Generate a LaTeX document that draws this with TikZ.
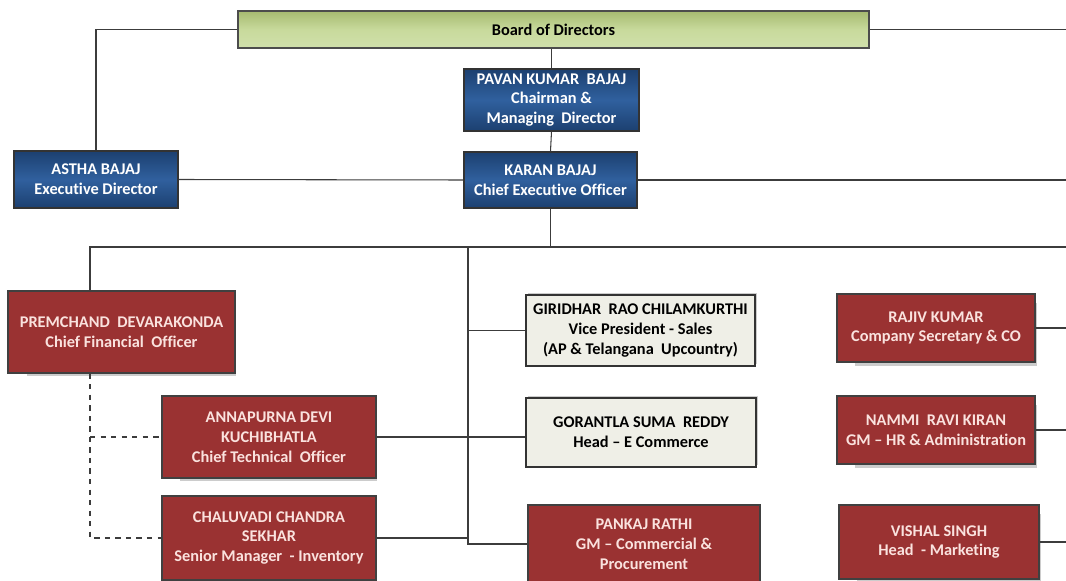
\documentclass[tikz,border=0pt]{standalone}
\usepackage{fontspec}
\setmainfont{Carlito}[Ligatures=NoCommon]
\usetikzlibrary{shadows}

\definecolor{boardgreen}{RGB}{200,218,156}
\definecolor{boardtop}{RGB}{166,186,112}
\definecolor{execblue}{RGB}{48,96,158}
\definecolor{execdark}{RGB}{28,64,112}
\definecolor{headred}{RGB}{154,50,50}
\definecolor{headtext}{RGB}{250,226,222}
\definecolor{salesgray}{RGB}{239,239,231}
\definecolor{wire}{RGB}{60,60,60}

\tikzset{
  box/.style={draw, line width=0.7pt, align=center, inner sep=1pt,
    font=\fontsize{9.3}{11.3}\selectfont\bfseries},
  boardbox/.style={box, draw=black!70, top color=boardtop, bottom color=boardgreen!85,
    middle color=boardgreen},
  execbox/.style={box, draw=black!80, text=white, top color=execdark,
    bottom color=execdark, middle color=execblue},
  headbox/.style={box, draw=black!75, fill=headred, text=headtext,
    drop shadow={shadow scale=0.92, shadow xshift=6pt, shadow yshift=-4pt, opacity=0.2, fill=black}},
  salesbox/.style={box, draw=black!80, fill=salesgray, text=black,
    drop shadow={shadow xshift=1.2pt, shadow yshift=1.2pt, opacity=0.2, fill=black}},
  link/.style={draw=wire, line width=0.6pt},
  dotlink/.style={link, dashed}
}

\begin{document}
\begin{tikzpicture}[x=0.02cm, y=-0.02cm]
  \useasboundingbox (0,0) rectangle (1066,581);

  % Board and top management
  \node (board) [boardbox, minimum width=12.62cm, minimum height=0.74cm] at (553.5,29.5) {Board of Directors};
  \node (pavan) [execbox, minimum width=3.5cm, minimum height=1.24cm] at (551.5,100) {PAVAN KUMAR\ \ BAJAJ\\Chairman \&\\Managing\ \ Director};
  \node (karan) [execbox, minimum width=3.46cm, minimum height=1.12cm] at (550.5,180) {KARAN BAJAJ\\Chief Executive Officer};
  \node (astha) [execbox, minimum width=3.28cm, minimum height=1.14cm] at (96,179.5) {ASTHA BAJAJ\\Executive Director};

  % Bus coordinates
  \coordinate (busL) at (90,247);
  \coordinate (busR) at (1066,247);
  \coordinate (trunk) at (468,247);
  \coordinate (edgeR) at (1066,0);

  % Left column
  \node (prem) [headbox, minimum width=4.54cm, minimum height=1.64cm] at (121.5,332) {PREMCHAND\ \ DEVARAKONDA\\Chief Financial\ \ Officer};
  \node (anna) [headbox, minimum width=4.28cm, minimum height=1.64cm] at (269,437) {ANNAPURNA DEVI\\KUCHIBHATLA\\Chief Technical\ \ Officer};
  \node (chalu) [headbox, minimum width=4.28cm, minimum height=1.68cm] at (269,538) {CHALUVADI CHANDRA\\SEKHAR\\Senior Manager\ \ - Inventory};

  % Middle column
  \node (giri) [salesbox, minimum width=4.58cm, minimum height=1.42cm] at (640.5,330.5) {GIRIDHAR\ \ RAO CHILAMKURTHI\\Vice President - Sales\\(AP \& Telangana\ \ Upcountry)};
  \node (gora) [salesbox, minimum width=4.6cm, minimum height=1.38cm] at (641,432.5) {GORANTLA SUMA\ \ REDDY\\Head -- E Commerce};
  \node (pank) [headbox, minimum width=4.64cm, minimum height=1.56cm] at (644,544) {PANKAJ RATHI\\GM -- Commercial \&\\Procurement};

  % Right column
  \node (rajiv) [headbox, minimum width=3.96cm, minimum height=1.36cm] at (936,328) {RAJIV KUMAR\\Company Secretary \& CO};
  \node (nammi) [headbox, minimum width=3.96cm, minimum height=1.36cm] at (936,430) {NAMMI\ \ RAVI KIRAN\\GM -- HR \& Administration};
  \node (vishal) [headbox, minimum width=4cm, minimum height=1.48cm] at (939,542) {VISHAL SINGH\\Head\ \ - Marketing};

  % Top connectors
  \draw[link] (astha.north) |- (board.west);
  \draw[link] (board.east) -- (board.east -| edgeR);
  \draw[link] (pavan.north) -- (pavan.north |- board.south);
  \draw[link] (pavan.south) -- (karan.north);
  \draw[link] (astha.east) -- (karan.west);
  \draw[link] (karan.east) -- (karan.east -| edgeR);
  \draw[link] (karan.south) -- (karan.south |- busL);

  % Main bus and trunk
  \draw[link] (prem.north -| busL) -- (busL) -- (busR);
  \draw[link] (trunk) -- (trunk |- pank.west) -- (pank.west);
  \draw[link] (giri.west) -- (giri.west -| trunk);
  \draw[link] (anna.east) -- (anna.east -| gora.west);
  \draw[link] (chalu.east) -- (chalu.east -| trunk);

  % Dotted reporting lines
  \draw[dotlink] (prem.south -| busL) -- (chalu.west -| busL) -- (chalu.west);
  \draw[dotlink] (anna.west -| busL) -- (anna.west);

  % Right side connectors
  \draw[link] (rajiv.east) -- (rajiv.east -| edgeR);
  \draw[link] (nammi.east) -- (nammi.east -| edgeR);
  \draw[link] (vishal.east) -- (vishal.east -| edgeR);
\end{tikzpicture}
\end{document}
